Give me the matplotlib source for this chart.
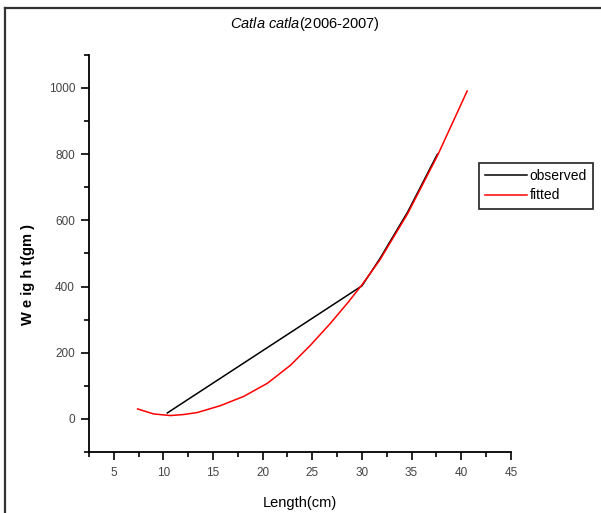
import numpy as np
import matplotlib
matplotlib.use("Agg")
import matplotlib.pyplot as plt
from matplotlib.lines import Line2D
from matplotlib.ticker import MultipleLocator

plt.rcParams['font.family'] = ['Liberation Sans', 'DejaVu Sans']
plt.rcParams['mathtext.fontset'] = 'custom'
plt.rcParams['mathtext.it'] = 'Liberation Sans:italic'
plt.rcParams['mathtext.rm'] = 'Liberation Sans'

# observed length-weight values
obs_len = [10.4, 30.0, 31.8, 34.6, 37.6]
obs_wt = [18, 402, 484, 625, 800]

# fitted curve
fit_len = [7.4, 9.0, 10.7, 12.0, 13.4, 15.75, 18.1, 20.5, 22.8, 24.8,
           26.8, 28.6, 30.0, 31.8, 34.6, 37.6, 40.6]
fit_wt = [30, 15, 10, 13, 19, 40, 68, 108, 162, 222,
          288, 352, 405, 480, 620, 795, 991]

x_ticks = [5, 10, 15, 20, 25, 30, 35, 40, 45]
y_ticks = [0, 200, 400, 600, 800, 1000]

fig = plt.figure(figsize=(6.01, 5.13), dpi=100)
ax = fig.add_axes([0.148, 0.119, 0.702, 0.774])

ax.plot(obs_len, obs_wt, color='black', lw=1.1, label='observed', zorder=2)
ax.plot(fit_len, fit_wt, color='red', lw=1.1, label='fitted', zorder=3)

ax.set_xlim(2.5, 45)
ax.set_ylim(-100, 1100)
ax.set_xticks(x_ticks)
ax.set_yticks(y_ticks)
ax.xaxis.set_minor_locator(MultipleLocator(2.5))
ax.yaxis.set_minor_locator(MultipleLocator(100))

for s in ['top', 'right']:
    ax.spines[s].set_visible(False)
for s in ['left', 'bottom']:
    ax.spines[s].set_linewidth(1.3)

ax.tick_params(which='major', direction='out', length=6, width=1.2,
               labelsize=8.5, labelcolor='#444444', pad=4)
ax.tick_params(axis='x', which='major', pad=5)
ax.tick_params(which='minor', direction='out', length=3.5, width=1.2)

ax.set_xlabel('Length(cm)', fontsize=10.5)
ax.xaxis.set_label_coords(0.5, -0.112)
ax.set_ylabel('W e ig h t(gm )', fontsize=10.5, fontweight='bold')
ax.yaxis.set_label_coords(-0.128, 0.446)

fig.text(0.507, 0.953, r'$\mathit{Catla\ catla}$(2006-2007)', ha='center',
         va='center', fontsize=10.5)

leg = ax.legend(loc='upper left', bbox_to_anchor=(0.797, 0.683),
                bbox_transform=fig.transFigure, frameon=True, fancybox=False,
                edgecolor='black', fontsize=10, handlelength=3.0,
                handletextpad=0.2, borderpad=0.45, labelspacing=0.4,
                borderaxespad=0)
leg.get_frame().set_linewidth(1.3)

# outer frame of the original page
fig.add_artist(Line2D([5 / 601, 5 / 601], [0, 1 - 8 / 513], color='#333333', lw=1.6))
fig.add_artist(Line2D([5 / 601, 1], [1 - 8 / 513, 1 - 8 / 513], color='#333333', lw=1.6))

fig.savefig('out.png', dpi=100)
